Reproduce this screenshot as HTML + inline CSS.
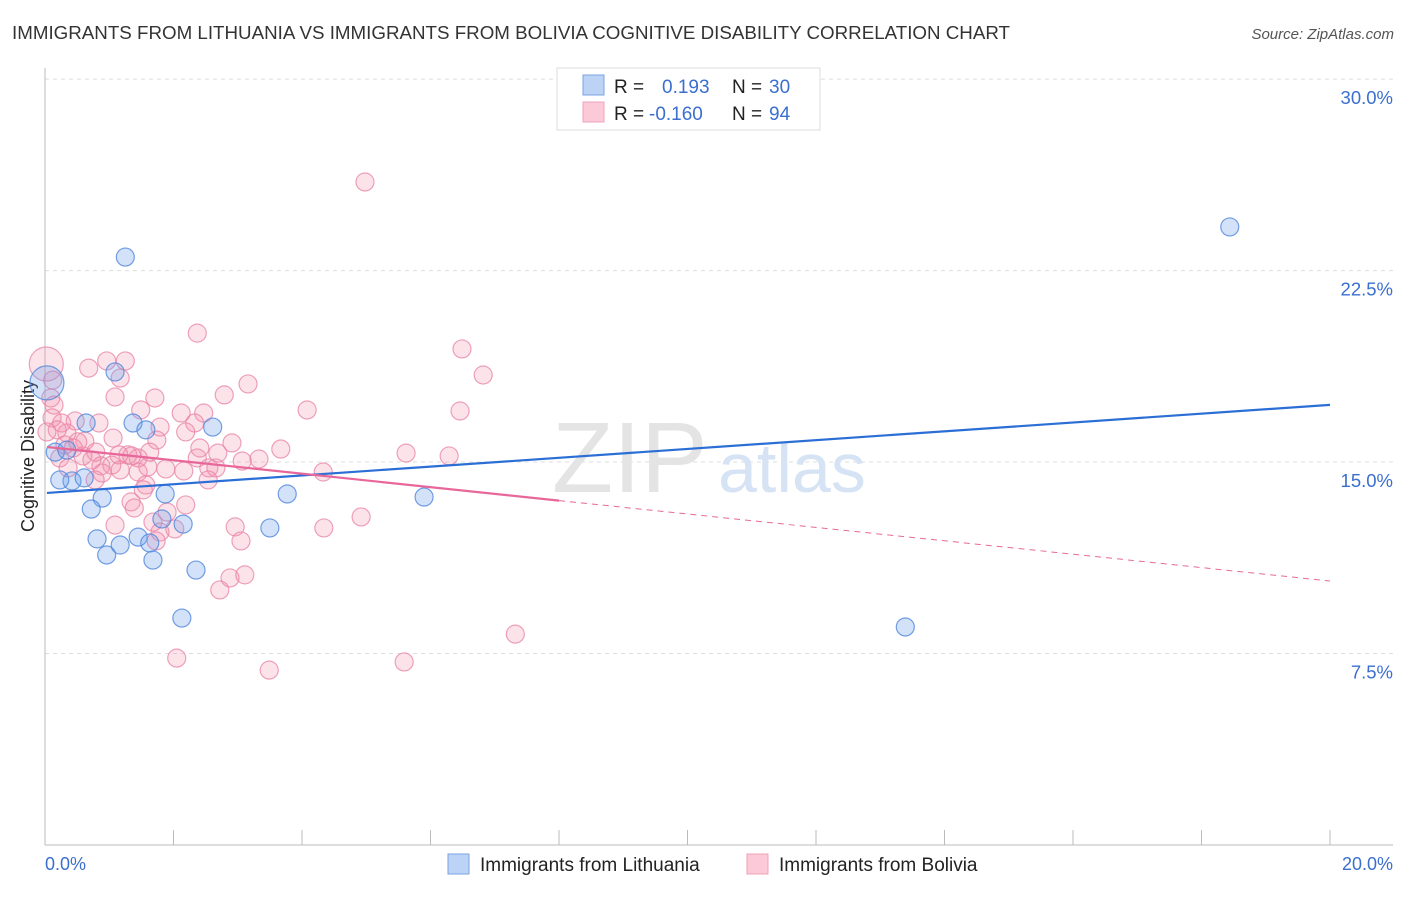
<!DOCTYPE html>
<html><head><meta charset="utf-8"><style>
body{margin:0;background:#fff;font-family:"Liberation Sans",sans-serif}
svg text{font-family:"Liberation Sans",sans-serif}
</style></head><body>
<svg width="1406" height="892" xmlns="http://www.w3.org/2000/svg">
<text x="12" y="39" font-size="18" fill="#333" textLength="998" lengthAdjust="spacingAndGlyphs">IMMIGRANTS FROM LITHUANIA VS IMMIGRANTS FROM BOLIVIA COGNITIVE DISABILITY CORRELATION CHART</text>
<text x="1394" y="39" font-size="15" fill="#555" font-style="italic" text-anchor="end">Source: ZipAtlas.com</text>
<g id="grid"></g>
<text x="552" y="492" font-size="100" fill="#e4e4e4" font-family="Liberation Serif">ZIP</text>
<text x="718" y="492" font-size="70" fill="#d6e3f5">atlas</text>
<line x1="45" y1="68" x2="45" y2="845" stroke="#bbb"/>
<line x1="45" y1="845" x2="1393" y2="845" stroke="#bbb"/>
<text transform="translate(34,456) rotate(-90)" font-size="18" fill="#222" text-anchor="middle">Cognitive Disability</text>
<text x="45" y="870" font-size="18" fill="#3a6fd0">0.0%</text>
<text x="1393" y="870" font-size="18" fill="#3a6fd0" text-anchor="end">20.0%</text>
<g id="pts"></g>
<g id="lines"></g>
<g>
<rect x="557" y="68" width="263" height="62" fill="#fff" stroke="#ddd"/>
<rect x="583" y="75" width="21" height="20" fill="#bcd3f5" stroke="#7aa3e5"/>
<rect x="583" y="102" width="21" height="20" fill="#fbc9d8" stroke="#eea3ba"/>
<text x="614" y="93" font-size="19" fill="#222">R =</text>
<text x="662" y="93" font-size="19" fill="#3a6fd0">0.193</text>
<text x="732" y="93" font-size="19" fill="#222">N =</text>
<text x="769" y="93" font-size="19" fill="#3a6fd0">30</text>
<text x="614" y="120" font-size="19" fill="#222">R =</text>
<text x="649" y="120" font-size="19" fill="#3a6fd0">-0.160</text>
<text x="732" y="120" font-size="19" fill="#222">N =</text>
<text x="769" y="120" font-size="19" fill="#3a6fd0">94</text>
</g>
<g>
<rect x="448" y="854" width="21" height="20" fill="#bcd3f5" stroke="#7aa3e5"/>
<text x="480" y="871" font-size="19" fill="#222">Immigrants from Lithuania</text>
</g>
<g>
<rect x="747" y="854" width="21" height="20" fill="#fbc9d8" stroke="#eea3ba"/>
<text x="779" y="871" font-size="19" fill="#222">Immigrants from Bolivia</text>
</g>
</svg>
<script>
const yTicks=[7.5,15,22.5,30];
const yTickLabels=["7.5%","15.0%","22.5%","30.0%"];
const xTicks=[0,2,4,6,8,10,12,14,16,18,20];
const blueX=[1.25,18.44,1.09,1.37,1.57,2.61,0.16,0.34,0.42,0.61,0.89,0.72,1.87,0.81,0.96,1.17,1.45,1.63,1.68,2.15,1.82,2.35,2.13,3.50,3.77,5.90,13.39,0.03,0.64,0.23];
const blueY=[23.03,24.21,18.53,16.53,16.26,16.37,15.39,15.47,14.26,14.38,13.59,13.16,13.75,11.99,11.36,11.75,12.06,11.83,11.16,12.57,12.77,10.77,8.89,12.42,13.75,13.63,8.54,18.10,16.53,14.3];
const blueBig=[27];
const pinkX=[4.98,2.37,6.49,6.82,0.02,1.25,0.96,0.68,1.17,3.16,2.79,1.71,1.09,0.09,0.14,4.08,6.46,1.49,2.12,2.47,2.33,0.47,0.84,0.26,1.79,2.19,0.34,1.06,1.74,2.91,0.62,3.67,2.69,5.62,6.29,0.44,0.79,1.29,1.45,0.23,0.59,3.33,3.07,2.37,1.04,0.87,1.60,1.88,0.36,1.17,1.45,2.16,2.55,2.66,4.33,0.89,0.73,2.54,1.57,1.53,1.34,1.39,2.19,1.90,4.92,1.68,1.09,2.96,2.02,4.34,1.79,1.73,3.05,2.88,3.11,2.72,7.32,2.05,5.59,3.49,0.11,0.19,0.03,0.51,1.35,0.12,0.78,0.31,1.63,1.15,2.41];
const pinkY=[25.97,20.05,19.43,18.41,18.84,18.96,18.96,18.68,18.29,18.06,17.63,17.51,17.55,17.51,17.23,17.04,17.00,17.04,16.92,16.92,16.53,16.61,16.53,16.53,16.37,16.18,16.14,15.94,15.86,15.75,15.82,15.51,15.35,15.35,15.24,15.55,15.39,15.28,15.16,15.16,15.24,15.12,15.04,15.16,14.88,14.85,14.81,14.73,14.77,14.69,14.61,14.65,14.77,14.77,14.61,14.57,15.08,14.30,14.10,13.91,13.44,13.20,13.32,13.04,12.85,12.65,12.53,12.46,12.38,12.42,12.26,11.91,11.91,10.46,10.58,9.99,8.26,7.32,7.17,6.85,16.73,16.26,16.18,15.79,15.24,18.21,14.30,15.67,15.39,15.28,15.55];
const pinkBig=[4];
const blueTrend=[13.79,17.24];
const pinkTrend=[15.59,10.34];
const pinkSolidEnd=8;
const NS="http://www.w3.org/2000/svg";
const X=v=>45+v*64.25, Y=v=>845-v*25.53;
function mk(t,a,p){const e=document.createElementNS(NS,t);for(const k in a)e.setAttribute(k,a[k]);p.appendChild(e);return e;}
const grid=document.getElementById('grid');
yTicks.forEach((t,i)=>{
 const l=mk('line',{x1:45,x2:1393,y1:Y(t),y2:Y(t),stroke:'#ddd','stroke-dasharray':'4,4'},grid);
 
 
 const tx=mk('text',{x:1393,y:Y(t)+25,'font-size':18.5,fill:'#3a6fd0','text-anchor':'end'},grid);
 tx.textContent=yTickLabels[i];
 
 
});
xTicks.forEach(t=>{
 const l=mk('line',{x1:X(t),x2:X(t),y1:830,y2:845,stroke:'#bbb'},grid);
 
 
});
const pts=document.getElementById('pts');
pinkX.forEach((x,i)=>{
 const c=mk('circle',{cx:X(x),cy:Y(pinkY[i]),r:pinkBig.includes(i)?17:9,fill:'rgba(244,143,172,0.25)',stroke:'rgba(232,130,165,0.75)','stroke-width':1.2},pts);
 
 
});
blueX.forEach((x,i)=>{
 const c=mk('circle',{cx:X(x),cy:Y(blueY[i]),r:blueBig.includes(i)?17:9,fill:'rgba(110,160,235,0.3)',stroke:'rgba(80,135,220,0.8)','stroke-width':1.2},pts);
 
 
});
const lines=document.getElementById('lines');
const pAt=x=>pinkTrend[0]+(pinkTrend[1]-pinkTrend[0])*x/20;
let l=mk('line',{x1:X(0.03),y1:Y(blueTrend[0]),x2:X(20),y2:Y(blueTrend[1]),stroke:'#2b6fd6','stroke-width':2.2},lines);


l=mk('line',{x1:X(0.03),y1:Y(pAt(0)),x2:X(pinkSolidEnd),y2:Y(pAt(pinkSolidEnd)),stroke:'#e8679a','stroke-width':2.2},lines);


l=mk('line',{x1:X(pinkSolidEnd),y1:Y(pAt(pinkSolidEnd)),x2:X(20),y2:Y(pAt(20)),stroke:'#e8679a','stroke-width':1,'stroke-dasharray':'6,5'},lines);


</script>
</body></html>
